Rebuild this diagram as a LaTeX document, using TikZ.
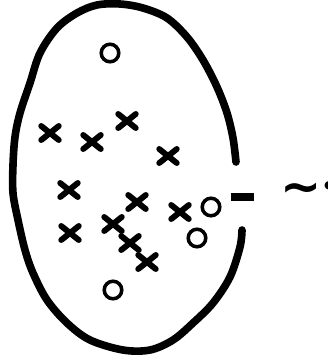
\documentclass[tikz,border=0pt]{standalone}
\usepackage{fontspec}
\usetikzlibrary{shapes.misc}
\newfontfamily\signfont{DejaVu Sans Bold}
\begin{document}
\begin{tikzpicture}[x=0.03cm,y=-0.03cm,
    xmark/.style={cross out,draw,line width=5pt,line cap=round,
                  minimum width=10pt,minimum height=7pt,inner sep=0pt},
    omark/.style={circle,draw,line width=3pt,minimum size=15pt,inner sep=0pt}]
  \useasboundingbox (0,0) rectangle (327,361);
  % the open boundary (gap on the right)
  \draw[line width=6.5pt,line cap=round] plot[smooth,tension=0.55] coordinates {
      (236,162) (233,138) (227,113) (217,87) (203,60) (187,37) (167,18)
      (143,8) (120,4) (97,5) (77,13) (57,28) (40,53) (30,83) (20,113)
      (15,137) (13,165) (13,193) (18,220) (25,250) (33,273) (47,300)
      (67,323) (90,340) (123,350) (150,350) (173,340) (193,323) (213,303)
      (230,277) (240,247) (242,230)};
  % inside points
  \node[omark] (o1) at (110,53) {};
  \node[omark] (o2) at (211,207) {};
  \node[omark] (o3) at (197,238) {};
  \node[omark] (o4) at (113,290) {};
  \node[xmark] (x1) at (50,133) {};
  \node[xmark] (x2) at (92,142) {};
  \node[xmark] (x3) at (127,121) {};
  \node[xmark] (x4) at (168,156) {};
  \node[xmark] (x5) at (69,190) {};
  \node[xmark] (x6) at (137,202) {};
  \node[xmark] (x7) at (180,212) {};
  \node[xmark] (x8) at (113,224) {};
  \node[xmark] (x9) at (70,233) {};
  \node[xmark] (x10) at (130,243) {};
  \node[xmark] (x11) at (147,262) {};
  % the pointer and its label
  \coordinate (tipL) at (231,197);
  \coordinate (tipR) at (254,197);
  \draw[line width=6pt] (tipL) -- (tipR);
  \node[anchor=base west,inner sep=0pt] (lab) at (280,203)
       {\signfont{\fontsize{42}{42}\selectfont\textasciitilde}%
        \raisebox{7pt}{\fontsize{20}{20}\selectfont\textbullet}};
\end{tikzpicture}
\end{document}
